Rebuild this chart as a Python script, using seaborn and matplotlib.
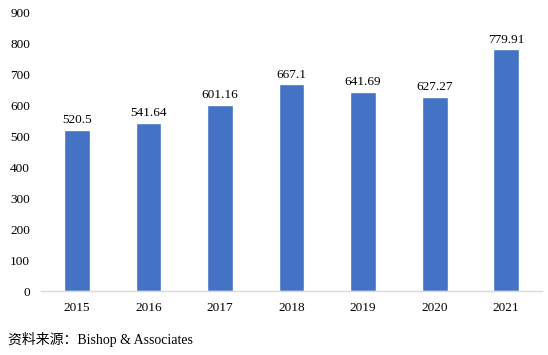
import matplotlib
matplotlib.use("Agg")
import matplotlib.pyplot as plt
import seaborn as sns
import pandas as pd

# data
years = ["2015", "2016", "2017", "2018", "2019", "2020", "2021"]
values = [520.5, 541.64, 601.16, 667.1, 641.69, 627.27, 779.91]
value_labels = ["520.5", "541.64", "601.16", "667.1", "641.69", "627.27", "779.91"]
source_text = "资料来源：Bishop & Associates"

sns.set_theme(style="white")
plt.rcParams['font.family'] = ['Liberation Serif', 'Noto Sans CJK SC', 'DejaVu Sans']

df = pd.DataFrame({"year": years, "value": values})

fig = plt.figure(figsize=(5.48, 3.55), dpi=100)
ax = fig.add_axes([0.075, 0.18, 0.914, 0.786])

sns.barplot(data=df, x="year", y="value", color="#4472C4", width=0.36,
            saturation=1, ax=ax)

for i, (v, lab) in enumerate(zip(values, value_labels)):
    ax.text(i, v + 12, lab, ha="center", va="bottom", fontsize=9.5, color="black")

ax.set_ylim(0, 900)
ax.set_yticks(range(0, 901, 100))
ax.set_xlabel("")
ax.set_ylabel("")
ax.tick_params(axis="both", labelsize=9.5, colors="black", length=0, pad=8)
for s in ["top", "right", "left"]:
    ax.spines[s].set_visible(False)
ax.spines["bottom"].set_color("#D9D9D9")
ax.spines["bottom"].set_linewidth(1)

fig.text(0.015, 0.022, source_text, fontsize=10, color="black", ha="left", va="bottom")

fig.savefig("out.png", dpi=100)
plt.close()
